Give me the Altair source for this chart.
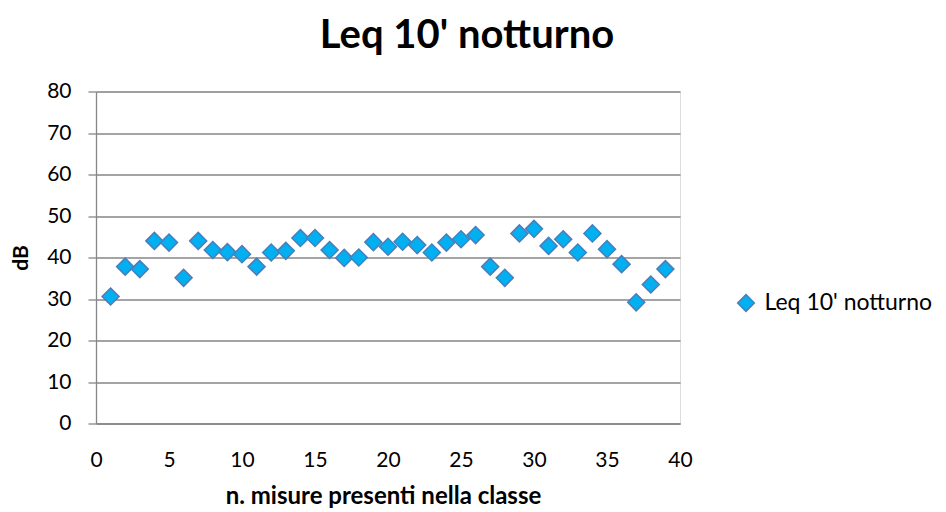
import altair as alt
import pandas as pd

misura = list(range(1, 40))
leq = [30.6, 37.8, 37.2, 44.0, 43.6, 35.1, 44.0, 41.8, 41.3, 40.8,
       37.8, 41.2, 41.6, 44.7, 44.7, 41.8, 39.9, 40.0, 43.7, 42.6,
       43.8, 43.0, 41.2, 43.6, 44.4, 45.4, 37.8, 35.1, 45.8, 46.9,
       42.8, 44.4, 41.2, 45.8, 42.0, 38.4, 29.2, 33.5, 37.2]
serie_name = "Leq 10' notturno"
x_ticks = [0, 5, 10, 15, 20, 25, 30, 35, 40]
y_ticks = [0, 10, 20, 30, 40, 50, 60, 70, 80]

df = pd.DataFrame({"n": misura, "dB": leq, "serie": [serie_name] * len(misura)})

FONT = "Lato"
FILL = "#00B0F0"
STROKE = "#4A7EBB"
GRID = "#868686"

points = alt.Chart(df).mark_point(
    shape="diamond", filled=True, size=290, stroke=STROKE, strokeWidth=1.5, opacity=1
).encode(
    x=alt.X("n:Q", scale=alt.Scale(domain=[0, 40], nice=False),
            axis=alt.Axis(values=x_ticks, title="n. misure presenti nella classe",
                          grid=False, ticks=False, tickSize=0, labelPadding=43,
                          labelFlush=False,
                          labelBaseline="alphabetic", labelFontSize=21, labelFont=FONT,
                          labelColor="#000000", domainColor=GRID, domainWidth=1.3,
                          titleFont=FONT, titleFontSize=24, titleFontWeight="bold",
                          titleColor="#000000", titleX=287, titleY=80,
                          titleBaseline="alphabetic", titleAlign="center")),
    y=alt.Y("dB:Q", scale=alt.Scale(domain=[0, 80], nice=False),
            axis=alt.Axis(values=y_ticks, title="dB", grid=True, gridColor=GRID,
                          gridWidth=1.3, ticks=True, tickSize=8, tickColor=GRID,
                          tickWidth=1.3, labelPadding=17, labelFontSize=21,
                          labelFont=FONT, labelColor="#000000", labelBaseline="middle",
                          domainColor=GRID, domainWidth=1.3, titleFont=FONT,
                          titleFontSize=21, titleFontWeight="bold", titleColor="#000000",
                          titleAngle=-90, titleX=-75, titleY=166,
                          titleBaseline="middle", titleAlign="center")),
    color=alt.Color("serie:N", scale=alt.Scale(domain=[serie_name], range=[FILL]),
                    legend=alt.Legend(title=None, orient="none", legendX=638.5,
                                      legendY=200, symbolType="diamond", symbolSize=280,
                                      symbolStrokeColor=STROKE, symbolStrokeWidth=1.5,
                                      labelFontSize=23, labelFont=FONT, labelLimit=400,
                                      labelColor="#000000", labelOffset=7, padding=0)),
)

title = alt.Chart(pd.DataFrame({"t": [serie_name]})).mark_text(
    font=FONT, fontSize=40, fontWeight="bold", color="#000000",
    align="center", baseline="alphabetic"
).encode(text="t:N", x=alt.value(371), y=alt.value(-44))

chart = alt.layer(points, title).properties(
    width=584, height=332,
    padding={"left": 88, "top": 83.5, "right": 258, "bottom": 88},
    autosize=alt.AutoSizeParams(type="none"),
).configure_view(stroke=None).configure(background="#ffffff")

chart.save("out.html", embed_options={"renderer": "svg", "actions": False})
